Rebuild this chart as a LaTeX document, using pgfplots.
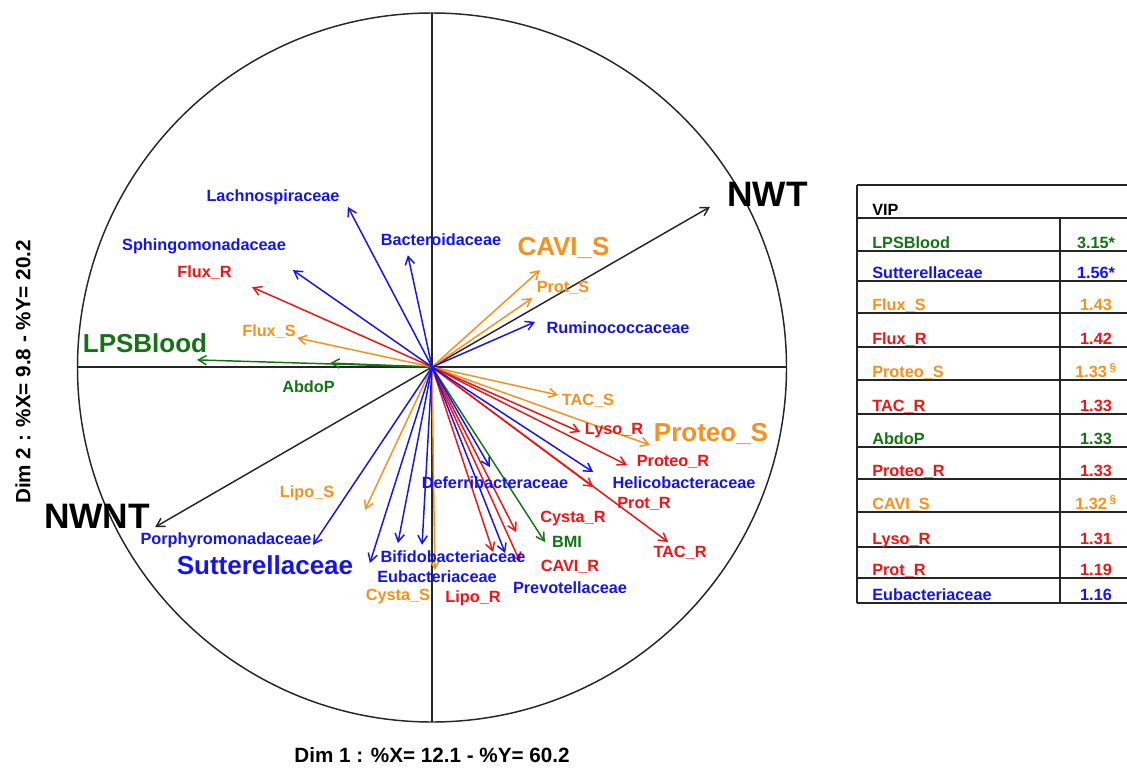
\documentclass[border=0pt]{standalone}
\usepackage{pgfplots}
\pgfplotsset{compat=1.18}
\usepackage{fontspec}
\setmainfont{Liberation Sans}
\usetikzlibrary{arrows.meta}
\definecolor{cblue}{RGB}{20,20,240}
\definecolor{cred}{RGB}{240,20,20}
\definecolor{corange}{RGB}{245,145,30}
\definecolor{cgreen}{RGB}{20,115,20}
\newcommand\lab[5]{\node[text=#1,font=\fontsize{#2}{#2}\selectfont\bfseries,inner sep=0pt] at (#3,#4) {#5};}
\newcommand\trow[4]{%
  \node[text=#1,font=\fontsize{12.2}{12.2}\selectfont\bfseries,inner sep=0pt,anchor=base west] at (872,#2-3) {#3};
  \node[text=#1,font=\fontsize{12.2}{12.2}\selectfont\bfseries,inner sep=0pt,anchor=base] at (1096,#2-3) {#4};}
\begin{document}
\begin{tikzpicture}
\useasboundingbox (0,0) rectangle (845.25pt,-575.25pt);
\begin{scope}[x=0.75pt,y=-0.75pt]
  \draw[line width=1.1pt, black!85] (432,367.5) circle (354.5);
  \draw[line width=0.9pt, black!85] (78,367) -- (787,367);
  \draw[line width=0.9pt, black!85] (432,13) -- (432,722);
\end{scope}
\begin{axis}[at={(0,0)}, anchor=north west, scale only axis,
  width=845.25pt, height=575.25pt,
  xmin=-1.216901, xmax=1.957746, ymin=-1.126761, ymax=1.033803,
  axis lines=none, clip=false,
  every axis plot/.append style={line width=1.1pt, -{Straight Barb[length=6pt,width=7pt]}}]
% black: NWT, NWNT
\addplot[black!85, quiver={u=\thisrow{u},v=\thisrow{v}}] table {
x y u v
0 0 0.783 0.451
0 0 -0.780 -0.451
};
% green: LPSBlood, AbdoP, BMI
\addplot[cgreen, quiver={u=\thisrow{u},v=\thisrow{v}}] table {
x y u v
0 0 -0.662 0.020
0 0 -0.287 0.011
0 0 0.318 -0.493
};
% orange: Flux_S, CAVI_S, Prot_S, TAC_S, Proteo_S, Lipo_S, Cysta_S
\addplot[corange, quiver={u=\thisrow{u},v=\thisrow{v}}] table {
x y u v
0 0 -0.380 0.082
0 0 0.304 0.273
0 0 0.282 0.194
0 0 0.355 -0.079
0 0 0.614 -0.220
0 0 -0.189 -0.403
0 0 0.008 -0.572
};
% red: Flux_R, Lyso_R, Proteo_R, Prot_R, TAC_R, Cysta_R, CAVI_R, Lipo_R
\addplot[cred, quiver={u=\thisrow{u},v=\thisrow{v}}] table {
x y u v
0 0 -0.507 0.225
0 0 0.417 -0.183
0 0 0.549 -0.276
0 0 0.454 -0.338
0 0 0.665 -0.493
0 0 0.237 -0.465
0 0 0.248 -0.549
0 0 0.172 -0.521
};
% blue: Sphingo, Lachno, Bacteroid, Rumino, Helico, Deferri, Prevotella, Bifido, Eubact, Sutterella, Porphyro
\addplot[cblue, quiver={u=\thisrow{u},v=\thisrow{v}}] table {
x y u v
0 0 -0.392 0.273
0 0 -0.237 0.451
0 0 -0.068 0.315
0 0 0.290 0.127
0 0 0.454 -0.296
0 0 0.163 -0.282
0 0 0.206 -0.524
0 0 -0.028 -0.501
0 0 -0.096 -0.496
0 0 -0.175 -0.552
0 0 -0.335 -0.501
};
\end{axis}
\begin{scope}[x=0.75pt,y=-0.75pt]
  % labels
  \lab{black}{26.5}{767.5}{194}{NWT}
  \lab{black}{26.5}{97}{516}{NWNT}
  \lab{cgreen}{19.5}{145}{343}{LPSBlood}
  \lab{cgreen}{12.2}{308.5}{387}{AbdoP}
  \lab{cgreen}{12.2}{567}{542}{BMI}
  \lab{corange}{12.2}{269}{332}{Flux\_S}
  \lab{corange}{19.5}{563.5}{248}{CAVI\_S}
  \lab{corange}{12.2}{563}{288}{Prot\_S}
  \lab{corange}{12.2}{588}{401}{TAC\_S}
  \lab{corange}{19.5}{711}{434}{Proteo\_S}
  \lab{corange}{12.2}{307}{493}{Lipo\_S}
  \lab{corange}{12.2}{398}{597}{Cysta\_S}
  \lab{cred}{12.2}{204.5}{273}{Flux\_R}
  \lab{cred}{12.2}{614}{431}{Lyso\_R}
  \lab{cred}{12.2}{673}{462}{Proteo\_R}
  \lab{cred}{12.2}{644}{504}{Prot\_R}
  \lab{cred}{12.2}{680}{553}{TAC\_R}
  \lab{cred}{12.2}{573}{519}{Cysta\_R}
  \lab{cred}{12.2}{570}{567}{CAVI\_R}
  \lab{cred}{12.2}{473}{598}{Lipo\_R}
  \lab{cblue}{12.2}{273}{197}{Lachnospiraceae}
  \lab{cblue}{12.2}{204}{246}{Sphingomonadaceae}
  \lab{cblue}{12.2}{441}{240}{Bacteroidaceae}
  \lab{cblue}{12.2}{618}{328}{Ruminococcaceae}
  \lab{cblue}{12.2}{684}{483}{Helicobacteraceae}
  \lab{cblue}{12.2}{495}{483}{Deferribacteraceae}
  \lab{cblue}{12.2}{570}{588}{Prevotellaceae}
  \lab{cblue}{12.2}{453}{557}{Bifidobacteriaceae}
  \lab{cblue}{12.2}{437}{577}{Eubacteriaceae}
  \lab{cblue}{12.2}{226}{540}{Porphyromonadaceae}
  \lab{cblue}{19.5}{265}{565}{Sutterellaceae}
  % axis titles
  \lab{black}{15.5}{432}{755}{Dim 1 : \%X= 12.1 - \%Y= 60.2}
  \node[text=black,font=\fontsize{15.5}{15.5}\selectfont\bfseries,inner sep=0pt,rotate=90] at (23,372) {Dim 2 : \%X= 9.8 - \%Y= 20.2};
  % VIP table
  \draw[line width=1.1pt, black!85] (857,185) -- (1135,185);
  \draw[line width=1.1pt, black!85] (857,185) -- (857,603);
  \draw[line width=1.1pt, black!85] (1060,218) -- (1060,603);
  \foreach \yy in {218,251,281,313,347,380,414,447,479,512,547,578,603}
    \draw[line width=1.1pt, black!85] (857,\yy) -- (1135,\yy);
  \node[text=black,font=\fontsize{12.2}{12.2}\selectfont\bfseries,inner sep=0pt,anchor=base west] at (872,215) {VIP};
  \trow{cgreen}{251}{LPSBlood}{3.15*}
  \trow{cblue}{281}{Sutterellaceae}{1.56*}
  \trow{corange}{313}{Flux\_S}{1.43}
  \trow{cred}{347}{Flux\_R}{1.42}
  \trow{corange}{380}{Proteo\_S}{1.33\,\textsuperscript{§}}
  \trow{cred}{414}{TAC\_R}{1.33}
  \trow{cgreen}{447}{AbdoP}{1.33}
  \trow{cred}{479}{Proteo\_R}{1.33}
  \trow{corange}{512}{CAVI\_S}{1.32\,\textsuperscript{§}}
  \trow{cred}{547}{Lyso\_R}{1.31}
  \trow{cred}{578}{Prot\_R}{1.19}
  \trow{cblue}{603}{Eubacteriaceae}{1.16}
\end{scope}
\end{tikzpicture}
\end{document}
